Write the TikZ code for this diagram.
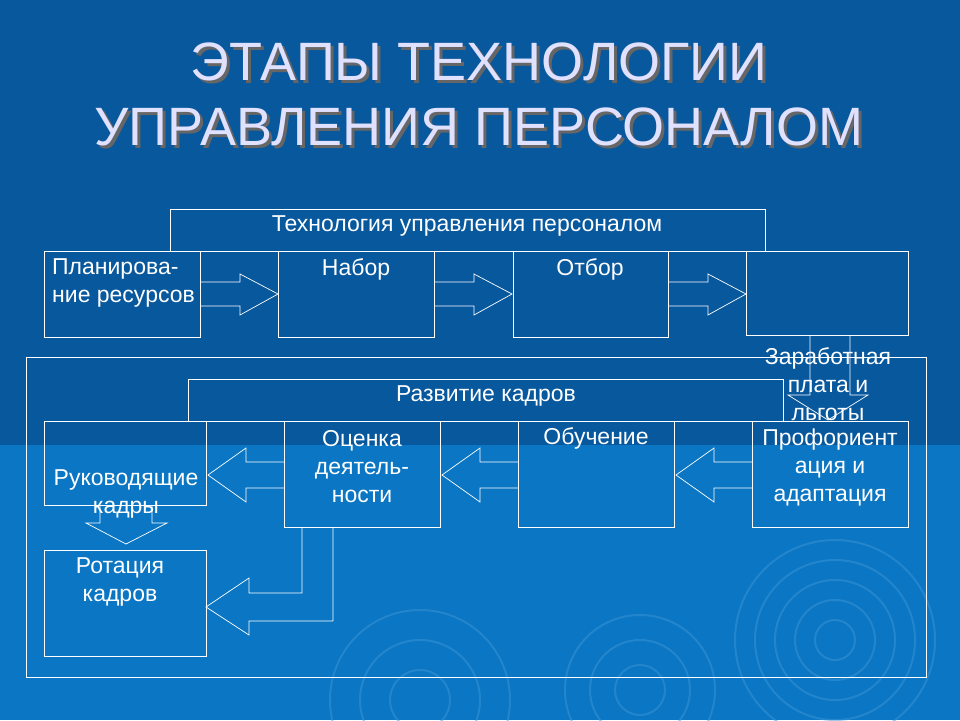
\documentclass[tikz,border=0pt]{standalone}
\usepackage{fontspec}
\setmainfont{Liberation Sans}
\begin{document}
\begin{tikzpicture}[x=1pt,y=-1pt,
  box/.style={draw=white,line width=0.8pt,anchor=north west,inner sep=0pt},
  txt/.style={text=white,font=\fontsize{23}{28}\selectfont,align=center,inner sep=0pt},
  arr/.style={draw=white,line width=0.7pt}]
\definecolor{bgtop}{RGB}{8,88,158}
\definecolor{bgbot}{RGB}{10,118,196}
\definecolor{ring}{RGB}{60,150,215}
\useasboundingbox (0,0) rectangle (960,720);
\clip (0,0) rectangle (960,720);
\fill[bgtop] (0,0) rectangle (960,445);
\fill[bgbot] (0,445) rectangle (960,720);
\begin{scope}[ring,line width=2pt,opacity=0.5]
\foreach \r in {20,40,60,80,100} \draw (835,640) circle (\r);
\foreach \r in {25,50,75} \draw (640,690) circle (\r);
\foreach \r in {30,60,90} \draw (420,700) circle (\r);
\end{scope}
% title
\node[text=black!60,font=\fontsize{54}{65}\selectfont,align=center] at (482,97) {ЭТАПЫ ТЕХНОЛОГИИ\\УПРАВЛЕНИЯ ПЕРСОНАЛОМ};
\node[text=white!88!blue,font=\fontsize{54}{65}\selectfont,align=center] (title) at (479,94) {ЭТАПЫ ТЕХНОЛОГИИ\\УПРАВЛЕНИЯ ПЕРСОНАЛОМ};
% top
\node[box,minimum width=595,minimum height=42] (tech) at (170,209) {};
\node[txt] at (467,226) {Технология управления персоналом};
\node[box,minimum width=156,minimum height=86] (plan) at (44,251) {};
\node[box,minimum width=156,minimum height=86] (nabor) at (278,251) {};
\node[box,minimum width=155,minimum height=86] (otbor) at (513,251) {};
\node[box,minimum width=162,minimum height=84] (zp) at (746,251) {};
\node[txt,align=left,anchor=north west] at (52,258) {Планирова-\\ние ресурсов};
\node[txt] at (356,269) {Набор};
\node[txt] at (590,269) {Отбор};
% right arrows
\foreach \a/\b in {200/240,434/474,668/708}{
  \draw[arr] (\a,282) -- (\b,282) -- (\b,274) -- (\b+38,294) -- (\b,315) -- (\b,306) -- (\a,306);
}
% down arrow from zp
\draw[arr] (810,335) -- (810,395) -- (788,395) -- (828,420) -- (868,395) -- (850,395) -- (850,335);
\node[txt] at (828,384) {Заработная\\плата и\\льготы};
% outer frame
\node[box,minimum width=900,minimum height=320] (outer) at (26,357) {};
\node[box,minimum width=595,minimum height=42] (razv) at (188,379) {};
\node[txt] at (486,396) {Развитие кадров};
\node[box,minimum width=162,minimum height=84] (ruk) at (44,421) {};
\node[box,minimum width=156,minimum height=106] (ocenka) at (284,421) {};
\node[box,minimum width=156,minimum height=106] (obuch) at (518,421) {};
\node[box,minimum width=156,minimum height=106] (prof) at (752,421) {};
\node[box,minimum width=162,minimum height=106] (rot) at (44,550) {};
\node[txt] at (362,467) {Оценка\\деятель-\\ности};
\node[txt] at (596,438) {Обучение};
\node[txt] at (830,467) {Профориент\\ация и\\адаптация};
\node[txt] at (126,494) {Руководящие\\кадры};
\node[txt] at (120,582) {Ротация\\кадров};
% left arrows
\foreach \a/\b in {284/246,518/480,752/714}{
  \draw[arr] (\a,462) -- (\b,462) -- (\b,448) -- (\b-38,475) -- (\b,502) -- (\b,488) -- (\a,488);
}
% down arrow ruk->rot
\draw[arr] (100,505) -- (100,523) -- (86,523) -- (126,544) -- (167,523) -- (152,523) -- (152,505);
% bent arrow ocenka->rot
\draw[arr] (302,527) -- (302,593) -- (249,593) -- (249,578) -- (206,607) -- (249,635) -- (249,621) -- (333,621) -- (333,527);
\end{tikzpicture}
\end{document}
